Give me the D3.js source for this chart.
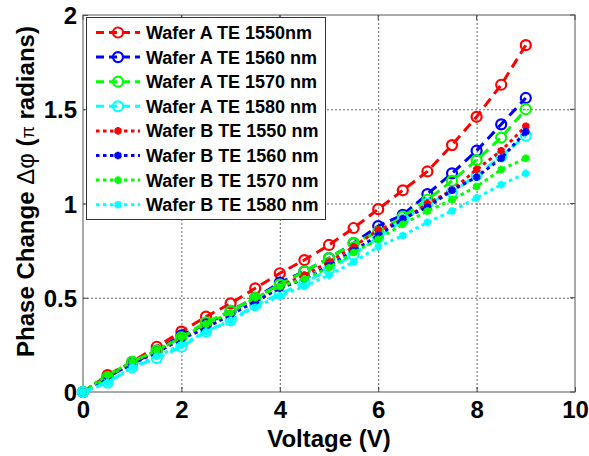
<!DOCTYPE html>
<html>
<head>
<meta charset="utf-8">
<script src="https://cdn.jsdelivr.net/npm/d3@7"></script>
<style>
  body { margin: 0; background: #fff; }
  text { font-family: "Liberation Sans", Arial, sans-serif; font-weight: bold; fill: #000; }
</style>
</head>
<body>
<div id="chart"></div>
<script>
"use strict";

// Voltage steps (V)
var voltage = [0, 0.5, 1, 1.5, 2, 2.5, 3, 3.5, 4, 4.5, 5, 5.5, 6, 6.5, 7, 7.5, 8, 8.5, 9];

// Phase change in units of pi
var waferA1550 = [0, 0.09, 0.16, 0.24, 0.32, 0.40, 0.47, 0.55, 0.63, 0.70, 0.78, 0.87, 0.97, 1.07, 1.17, 1.31, 1.46, 1.63, 1.84];
var waferA1560 = [0, 0.08, 0.15, 0.22, 0.30, 0.36, 0.43, 0.50, 0.58, 0.64, 0.71, 0.79, 0.88, 0.94, 1.05, 1.16, 1.28, 1.42, 1.56];
var waferA1570 = [0, 0.08, 0.16, 0.22, 0.29, 0.37, 0.43, 0.50, 0.57, 0.64, 0.71, 0.79, 0.85, 0.93, 1.02, 1.12, 1.23, 1.35, 1.50];
var waferA1580 = [0, 0.05, 0.13, 0.18, 0.24, 0.32, 0.38, 0.46, 0.52, 0.58, 0.65, 0.73, 0.82, 0.91, 1.00, 1.06, 1.15, 1.25, 1.36];
var waferB1550 = [0, 0.09, 0.15, 0.22, 0.29, 0.35, 0.42, 0.49, 0.56, 0.62, 0.69, 0.77, 0.86, 0.91, 1.00, 1.07, 1.18, 1.28, 1.41];
var waferB1560 = [0, 0.08, 0.15, 0.21, 0.28, 0.34, 0.41, 0.48, 0.55, 0.60, 0.67, 0.75, 0.83, 0.92, 0.98, 1.07, 1.14, 1.24, 1.38];
var waferB1570 = [0, 0.09, 0.16, 0.22, 0.29, 0.36, 0.42, 0.50, 0.56, 0.60, 0.66, 0.74, 0.81, 0.89, 0.96, 1.02, 1.09, 1.18, 1.24];
var waferB1580 = [0, 0.05, 0.13, 0.19, 0.25, 0.32, 0.38, 0.45, 0.51, 0.56, 0.62, 0.69, 0.77, 0.83, 0.90, 0.96, 1.03, 1.10, 1.16];

var seriesNames = [
  'Wafer A TE 1550nm', 'Wafer A TE 1560 nm', 'Wafer A TE 1570 nm', 'Wafer A TE 1580 nm',
  'Wafer B TE 1550 nm', 'Wafer B TE 1560 nm', 'Wafer B TE 1570 nm', 'Wafer B TE 1580 nm'
];
var seriesValues = [waferA1550, waferA1560, waferA1570, waferA1580,
                    waferB1550, waferB1560, waferB1570, waferB1580];
var seriesColors = ['#ff0000', '#0000ff', '#00ff00', '#00ffff',
                    '#ff0000', '#0000ff', '#00ff00', '#00ffff'];

var xTicks = [0, 2, 4, 6, 8, 10];
var yTicks = [0, 0.5, 1, 1.5, 2];

var width = 589, height = 456;
var plot = { left: 83, right: 575, top: 15, bottom: 392 };

var x = d3.scaleLinear().domain([0, 10]).range([plot.left, plot.right]);
var y = d3.scaleLinear().domain([0, 2]).range([plot.bottom, plot.top]);

var svg = d3.select('#chart')
  .append('svg')
    .attr('width', width)
    .attr('height', height);

// Grid
var grid = svg.append('g').attr('class', 'grid');
grid.selectAll('line.gx')
  .data(xTicks.slice(1, -1))
  .enter().append('line')
    .attr('x1', function (d) { return x(d) + 0.5; })
    .attr('x2', function (d) { return x(d) + 0.5; })
    .attr('y1', plot.top)
    .attr('y2', plot.bottom)
    .attr('stroke', '#666')
    .attr('stroke-width', 1)
    .attr('stroke-dasharray', '2,2');
grid.selectAll('line.gy')
  .data(yTicks.slice(1, -1))
  .enter().append('line')
    .attr('x1', plot.left)
    .attr('x2', plot.right)
    .attr('y1', function (d) { return y(d) + 0.5; })
    .attr('y2', function (d) { return y(d) + 0.5; })
    .attr('stroke', '#666')
    .attr('stroke-width', 1)
    .attr('stroke-dasharray', '2,2');

// Axes (ticks drawn inside the box, MATLAB style)
var xAxis = d3.axisBottom(x).tickValues(xTicks).tickSize(-5).tickPadding(9).tickFormat(d3.format('d'));
var yAxis = d3.axisLeft(y).tickValues(yTicks).tickSize(-5).tickPadding(6).tickFormat(function (d) { return String(d); });

var gx = svg.append('g')
  .attr('transform', 'translate(0,' + plot.bottom + ')')
  .call(xAxis);
var gy = svg.append('g')
  .attr('transform', 'translate(' + plot.left + ',0)')
  .call(yAxis);

[gx, gy].forEach(function (g) {
  g.select('.domain').remove();
  g.selectAll('.tick line').attr('stroke', '#444');
  g.selectAll('.tick text')
    .style('font-size', '24px')
    .style('font-family', '"Liberation Sans", Arial, sans-serif')
    .style('font-weight', 'bold')
    .attr('fill', '#000');
});
gy.selectAll('.tick text').attr('dy', '0.36em');

// right/top ticks
svg.append('g').selectAll('line')
  .data(yTicks)
  .enter().append('line')
    .attr('x1', plot.right).attr('x2', plot.right - 5)
    .attr('y1', function (d) { return y(d); })
    .attr('y2', function (d) { return y(d); })
    .attr('stroke', '#444');
svg.append('g').selectAll('line')
  .data(xTicks)
  .enter().append('line')
    .attr('y1', plot.top).attr('y2', plot.top + 5)
    .attr('x1', function (d) { return x(d); })
    .attr('x2', function (d) { return x(d); })
    .attr('stroke', '#444');

svg.append('rect')
  .attr('x', plot.left)
  .attr('y', plot.top)
  .attr('width', plot.right - plot.left)
  .attr('height', plot.bottom - plot.top)
  .attr('fill', 'none')
  .attr('stroke', '#555')
  .attr('stroke-width', 1);

// Axis labels
svg.append('text')
  .attr('x', (plot.left + plot.right) / 2)
  .attr('y', 447)
  .attr('text-anchor', 'middle')
  .style('font-size', '24px')
  .text('Voltage (V)');

var yLabel = svg.append('text')
  .attr('transform', 'translate(34,' + ((plot.top + plot.bottom) / 2 - 12) + ') rotate(-90)')
  .attr('text-anchor', 'middle')
  .style('font-size', '24px');
yLabel.append('tspan').text('Phase Change ');
yLabel.append('tspan').style('font-weight', 'normal').text('\u0394\u03c6');
yLabel.append('tspan').text(' (');
yLabel.append('tspan').style('font-weight', 'normal').style('font-size', '18px').text('\u03c0');
yLabel.append('tspan').text(' radians)');

// Series
var line = d3.line()
  .x(function (d) { return x(d[0]); })
  .y(function (d) { return y(d[1]); });

var star = d3.symbol().type(d3.symbolAsterisk).size(40);

var drawMarker = function (g, isCircle, color) {
  if (isCircle) {
    g.append('circle')
      .attr('r', 5)
      .attr('fill', 'none')
      .attr('stroke', color)
      .attr('stroke-width', 2.2);
  } else {
    g.append('path')
      .attr('d', star())
      .attr('fill', 'none')
      .attr('stroke', color)
      .attr('stroke-width', 3);
  }
};

var plotArea = svg.append('g');
seriesValues.forEach(function (vals, i) {
  var pts = voltage.map(function (v, k) { return [v, vals[k]]; });
  var isA = i < 4;
  plotArea.append('path')
    .datum(pts)
    .attr('d', line)
    .attr('fill', 'none')
    .attr('stroke', seriesColors[i])
    .attr('stroke-width', 3)
    .attr('stroke-dasharray', isA ? '10,6' : '3.5,3.5');
  var m = plotArea.append('g').selectAll('g')
    .data(pts)
    .enter().append('g')
      .attr('transform', function (d) { return 'translate(' + x(d[0]) + ',' + y(d[1]) + ')'; });
  m.each(function () { drawMarker(d3.select(this), isA, seriesColors[i]); });
});

// Legend
var legend = svg.append('g');
var legendTop = 17, rowH = 24.6;
legend.append('rect')
  .attr('x', 86.5).attr('y', legendTop + 0.5)
  .attr('width', 239).attr('height', 202)
  .attr('fill', '#fff')
  .attr('stroke', '#333')
  .attr('stroke-width', 1);

var rows = legend.selectAll('g.row')
  .data(seriesNames)
  .enter().append('g')
    .attr('transform', function (d, i) { return 'translate(0,' + (legendTop + 15.5 + i * rowH) + ')'; });

rows.append('line')
  .attr('x1', 96).attr('x2', 140)
  .attr('y1', 0).attr('y2', 0)
  .attr('stroke', function (d, i) { return seriesColors[i]; })
  .attr('stroke-width', 3)
  .attr('stroke-dasharray', function (d, i) { return i < 4 ? '8,5' : '3.5,3.5'; });
rows.each(function (d, i) {
  var g = d3.select(this).append('g').attr('transform', 'translate(118,0)');
  drawMarker(g, i < 4, seriesColors[i]);
});
rows.append('text')
  .attr('x', 146)
  .attr('y', 0)
  .attr('dy', '0.36em')
  .style('font-size', '18px')
  .text(function (d) { return d; });
</script>
</body>
</html>
